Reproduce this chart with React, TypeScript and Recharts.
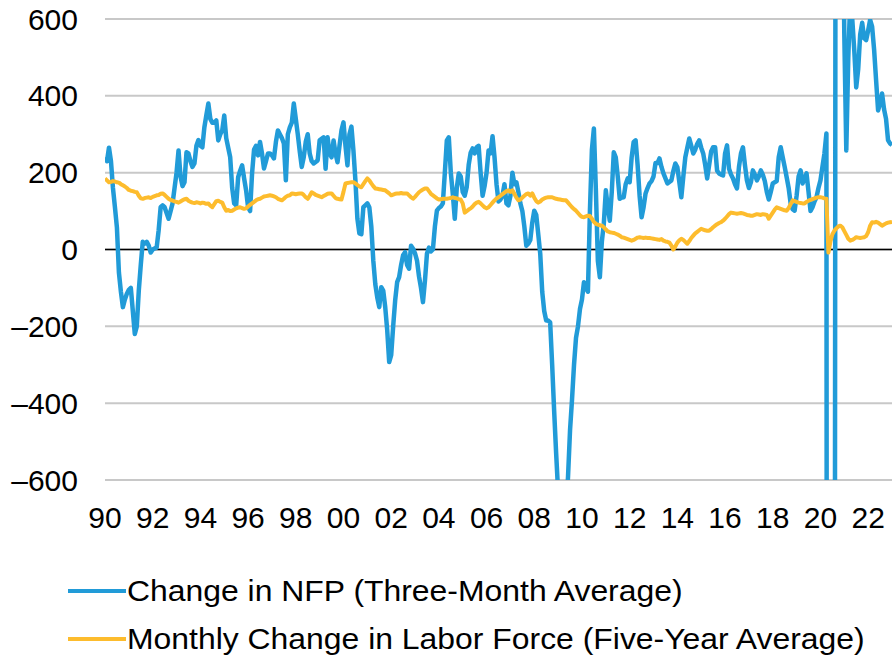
import { CartesianGrid, Line, LineChart, ReferenceLine, XAxis, YAxis } from "recharts";

// monthly, Jan 1990 .. Jan 2023 (thousands)
const START_YEAR = 1990;

const nfpThreeMonth = [
  240, 230, 265, 230, 160, 110, 57, -60, -110, -150, -130, -115,
  -105, -100, -160, -220, -200, -107, -40, 20, 15, 20, 10, -8,
  0, 3, 5, 50, 110, 115, 110, 95, 80, 100, 120, 160,
  200, 258, 190, 165, 175, 253, 250, 230, 215, 224, 270, 285,
  270, 266, 318, 350, 380, 340, 330, 330, 336, 284, 300, 310,
  349, 290, 265, 240, 160, 120, 115, 188, 205, 219, 185, 154,
  110, 100, 198, 260, 270, 245, 280, 250, 211, 230, 250, 250,
  245, 237, 280, 310, 300, 290, 276, 180, 300, 318, 330, 380,
  340, 300, 255, 215, 240, 280, 300, 250, 230, 224, 228, 232,
  284, 288, 292, 210, 292, 250, 240, 284, 250, 227, 270, 310,
  331, 270, 219, 300, 320, 258, 180, 80, 42, 40, 110, 115,
  120, 110, 60, -29, -90, -125, -150, -98, -107, -150, -210, -293,
  -275, -200, -133, -85, -72, -40, -15, -7, -40, -50, 10, 2,
  -10, -29, -70, -100, -137, -81, -11, 5, -5, 0, 60, 101,
  108, 112, 120, 200, 284, 292, 200, 145, 80, 160, 198, 190,
  150, 140, 162, 220, 252, 263, 250, 266, 270, 200, 140, 165,
  200, 258, 250, 295, 240, 170, 125, 130, 140, 170, 120, 115,
  140, 200, 170, 175, 150, 120, 100, 60, 10, 15, 25, 70,
  101, 90, 40, -11, -110, -160, -185, -185, -190, -300, -420, -530,
  -630, -700, -750, -740, -680, -590, -470, -390, -300, -230, -200, -155,
  -130, -85, -100, -110, 100, 260, 315, 154, -30, -72, 20, 68,
  154, 110, 75, 150, 253, 240, 190, 132, 135, 136, 170, 185,
  175, 240, 280, 284, 220, 140, 84, 110, 146, 160, 172, 178,
  190, 225, 225, 237, 215, 198, 185, 172, 176, 180, 205, 224,
  214, 175, 136, 190, 240, 265, 289, 270, 250, 260, 275, 284,
  265, 250, 220, 185, 220, 255, 266, 266, 205, 198, 195, 193,
  250, 271, 210, 195, 185, 170, 159, 215, 250, 266, 220, 180,
  160, 175, 206, 195, 180, 190, 206, 195, 178, 150, 130, 150,
  172, 175, 178, 240, 266, 240, 215, 188, 160, 120, 105, 101,
  140, 190, 206, 172, 185, 198, 150, 100, 110, 125, 136, 160,
  180, 215, 250, 302, -7200, -6300, -4300, -2500, 3500, 2900, 1600, 1000,
  560, 258, 500, 650, 600, 520, 422, 470, 560, 590, 550, 545,
  570, 598, 580, 520, 440, 362, 380, 406, 365, 340, 285, 276,
  272,
];

const laborForceFiveYear = [
  185, 180, 175, 176, 178, 177, 175, 174, 170, 167, 164, 160,
  155, 153, 152, 150, 149, 140, 133, 132, 134, 135, 136, 134,
  137, 139, 141, 142, 145, 146, 142, 137, 132, 129, 127, 125,
  124, 122, 125, 128, 131, 132, 127, 124, 122, 121, 123, 122,
  120, 122, 121, 119, 120, 114, 110, 118, 126, 127, 124, 122,
  110, 101, 103, 100, 101, 104, 107, 109, 110, 108, 106, 107,
  112, 116, 120, 124, 128, 131, 132, 135, 138, 139, 140, 141,
  140, 138, 136, 132, 130, 128, 132, 137, 140, 141, 146, 145,
  144, 145, 146, 146, 142, 136, 132, 140, 149, 146, 142, 140,
  138, 136, 139, 142, 145, 146, 146, 140, 134, 132, 131, 130,
  150, 172, 173, 174, 175, 175, 172, 168, 164, 162, 170, 178,
  185, 180, 172, 165, 159, 158, 157, 156, 155, 154, 150, 146,
  141, 143, 145, 146, 146, 147, 146, 146, 146, 141, 136, 132,
  137, 143, 149, 153, 156, 159, 159, 152, 145, 141, 137, 133,
  130, 131, 132, 132, 132, 133, 134, 136, 134, 133, 131, 130,
  120, 96, 100, 104, 107, 112, 118, 122, 124, 120, 115, 110,
  107, 110, 116, 122, 128, 133, 136, 140, 144, 148, 152, 154,
  150, 154, 145, 135, 128, 130, 135, 140, 144, 146, 140, 146,
  135, 126, 122, 125, 130, 133, 135, 136, 136, 136, 134, 132,
  131, 130, 129, 128, 128, 122, 116, 110, 105, 101, 95, 89,
  85, 84, 86, 88, 87, 80, 72, 67, 65, 63, 62, 58,
  52, 47, 45, 44, 43, 41, 39, 36, 32, 31, 29, 27,
  25, 23, 25, 28, 31, 32, 31, 30, 31, 30, 30, 29,
  28, 27, 26, 25, 27, 23, 21, 20, 18, 10, 0, 8,
  18, 24, 28, 25, 20, 15, 22, 30, 36, 42, 46, 50,
  54, 52, 50, 49, 49, 53, 58, 62, 66, 69, 71, 75,
  80, 86, 92, 96, 95, 94, 93, 94, 95, 94, 92, 90,
  89, 88, 88, 90, 92, 91, 90, 92, 91, 90, 80, 88,
  96, 104, 110, 108, 106, 104, 102, 101, 108, 118, 128, 126,
  124, 122, 121, 120, 120, 124, 127, 129, 131, 133, 135, 136,
  136, 135, 133, 132, -8, 20, 40, 49, 55, 60, 62, 58,
  48, 38, 28, 23, 25, 28, 32, 31, 30, 31, 32, 35,
  45, 62, 71, 70, 72, 70, 66, 62, 65, 68, 70, 71,
  72,
];

const yearTicks = [1990, 1992, 1994, 1996, 1998, 2000, 2002, 2004, 2006, 2008, 2010, 2012, 2014, 2016, 2018, 2020, 2022];
const valueTicks = [-600, -400, -200, 0, 200, 400, 600];

const seriesNames = ["Change in NFP (Three-Month Average)", "Monthly Change in Labor Force (Five-Year Average)"];
const BLUE = "#219bd8";
const GOLD = "#fdbc2d";
const FONT = "'Liberation Sans', Arial, sans-serif";

const rows = nfpThreeMonth.map((v, i) => ({
  t: START_YEAR + i / 12,
  nfp: v,
  labor: laborForceFiveYear[i],
}));

const fmtYear = (t: number) => String(Math.round(t) % 100).padStart(2, "0");
const fmtValue = (v: number) => (v < 0 ? "\u2013" + Math.abs(v) : String(v));

export default function App() {
  const tick = { fontFamily: FONT, fontSize: 30, fill: "#000" };
  return (
    <div style={{ position: "absolute", left: 0, top: 0, width: 892, height: 661, background: "#fff" }}>
      <LineChart width={892} height={661} data={rows} margin={{ top: 19, right: 0, bottom: 151, left: 0 }}>
        <CartesianGrid vertical={false} stroke="#c8c8c8" strokeWidth={2} />
        <XAxis
          dataKey="t"
          type="number"
          domain={[1990, 2023]}
          ticks={yearTicks}
          tickFormatter={fmtYear}
          axisLine={false}
          tickLine={false}
          tickSize={0}
          tickMargin={27}
          height={30}
          tick={tick}
          allowDataOverflow
        />
        <YAxis
          domain={[-600, 600]}
          ticks={valueTicks}
          tickFormatter={fmtValue}
          axisLine={false}
          tickLine={false}
          tickSize={0}
          tickMargin={27}
          width={105}
          tick={tick}
          allowDataOverflow
        />
        <ReferenceLine y={0} stroke="#000" strokeWidth={1.5} />
        <Line dataKey="nfp" stroke={BLUE} strokeWidth={4.5} dot={false} isAnimationActive={false} strokeLinejoin="round" />
        <Line dataKey="labor" stroke={GOLD} strokeWidth={4} dot={false} isAnimationActive={false} strokeLinejoin="round" />
      </LineChart>
      {seriesNames.map((name, i) => (
        <div
          key={name}
          style={{
            position: "absolute",
            left: 68,
            top: 573 + i * 48,
            height: 36,
            display: "flex",
            alignItems: "center",
            fontFamily: FONT,
            fontSize: 29,
            color: "#000",
            whiteSpace: "nowrap",
          }}
        >
          <svg width={58} height={6} style={{ marginRight: 1 }}>
            <line x1={0} y1={3} x2={58} y2={3} stroke={i === 0 ? BLUE : GOLD} strokeWidth={4} strokeLinecap="round" />
          </svg>
          <span style={{ display: "inline-block", transform: "scaleX(1.1)", transformOrigin: "left center" }}>{name}</span>
        </div>
      ))}
    </div>
  );
}
